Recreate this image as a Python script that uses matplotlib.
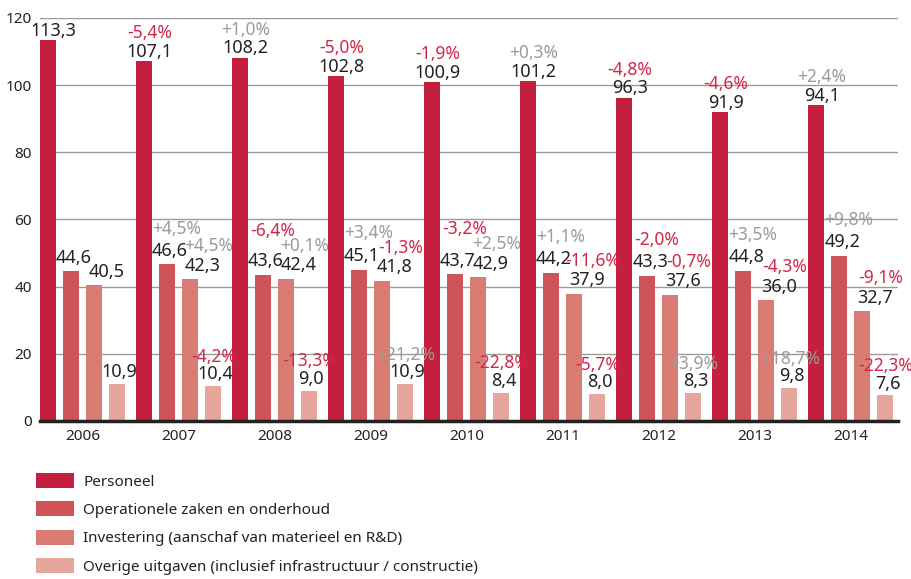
import matplotlib.pyplot as plt
import numpy as np
from matplotlib.patches import Patch

# Data (miljard euro)
years = ['2006', '2007', '2008', '2009', '2010', '2011', '2012', '2013', '2014']
series_names = [
    'Personeel',
    'Operationele zaken en onderhoud',
    'Investering (aanschaf van materieel en R&D)',
    'Overige uitgaven (inclusief infrastructuur / constructie)',
]
personeel = [113.3, 107.1, 108.2, 102.8, 100.9, 101.2, 96.3, 91.9, 94.1]
operationeel = [44.6, 46.6, 43.6, 45.1, 43.7, 44.2, 43.3, 44.8, 49.2]
investering = [40.5, 42.3, 42.4, 41.8, 42.9, 37.9, 37.6, 36.0, 32.7]
overig = [10.9, 10.4, 9.0, 10.9, 8.4, 8.0, 8.3, 9.8, 7.6]

# Year-on-year change (%), none for the first year
pct_personeel = [None, -5.4, 1.0, -5.0, -1.9, 0.3, -4.8, -4.6, 2.4]
pct_operationeel = [None, 4.5, -6.4, 3.4, -3.2, 1.1, -2.0, 3.5, 9.8]
pct_investering = [None, 4.5, 0.1, -1.3, 2.5, -11.6, -0.7, -4.3, -9.1]
pct_overig = [None, -4.2, -13.3, 21.2, -22.8, -5.7, 3.9, 18.7, -22.3]

colors = ['#C41F3E', '#CF5458', '#D97C74', '#E7A69B']
pos_color = '#9B9B9B'
neg_color = '#D42648'
text_color = '#222222'

plt.rcParams['font.family'] = ['Noto Sans', 'DejaVu Sans']
# narrower face for the labels above the bars
label_font = ['Liberation Sans Narrow', 'Noto Sans', 'DejaVu Sans']


def fmt(v, sign=False):
  s = f"{v:+.1f}" if sign else f"{v:.1f}"
  return s.replace('.', ',')


fig = plt.figure(figsize=(9.12, 5.79), dpi=100)
ax = fig.add_axes([0.0439, 0.2729, 0.9407, 0.6961])

values = [personeel, operationeel, investering, overig]
changes = [pct_personeel, pct_operationeel, pct_investering, pct_overig]

x = np.arange(len(years))
pitch = 0.24
width = 0.167
offsets = (np.arange(4) - 1.5) * pitch
# label placement per series, in points (the original leans right and
# stacks the percentages a bit higher for the middle series)
value_dx = [4, 2, 9, 1.5]
value_dy = [3, 6, 6, 5]
pct_dx = [4, 7, 13, 0.5]
pct_dy = [16.5, 22, 20, 17.5]

for s in range(4):
  ax.bar(x + offsets[s], values[s], width=width, color=colors[s], zorder=2)

ax.set_xlim(-0.443, 8.49)
ax.set_ylim(0, 120)

# points per data unit, to keep the operationele % clear of the investering %
pt_per_unit = (ax.transData.transform((0, 1))[1]
               - ax.transData.transform((0, 0))[1]) * 72 / fig.dpi

# Labels on top of bars
for s in range(4):
  for i, v in enumerate(values[s]):
    bx = x[i] + offsets[s]
    ax.annotate(fmt(v), (bx, v), xytext=(value_dx[s], value_dy[s]),
                textcoords='offset points', ha='center', va='baseline',
                fontsize=13, family=label_font, color=text_color, zorder=5)
    p = changes[s][i]
    if p is not None:
      dy = pct_dy[s]
      if s == 1:
        inv_level = investering[i] * pt_per_unit + pct_dy[2]
        level = v * pt_per_unit + dy
        if level < inv_level + 11:
          dy = inv_level + 11 - v * pt_per_unit
      ax.annotate(fmt(p, sign=True) + '%', (bx, v), xytext=(pct_dx[s], dy),
                  textcoords='offset points', ha='center', va='baseline',
                  fontsize=12.5, family=label_font,
                  color=neg_color if p < 0 else pos_color, zorder=5)

ax.set_yticks(range(0, 121, 20))
ax.set_xticks(x)
ax.set_xticklabels(years)
ax.tick_params(axis='both', length=0, labelsize=11, colors=text_color)
ax.tick_params(axis='x', pad=6)
ax.tick_params(axis='y', pad=6)
ax.grid(axis='y', color='#9A9A9A', linewidth=1.0, zorder=0)
ax.set_axisbelow(True)
for side in ['top', 'right', 'left']:
  ax.spines[side].set_visible(False)
ax.spines['bottom'].set_color('#222222')
ax.spines['bottom'].set_linewidth(2.5)
ax.spines['bottom'].set_zorder(3)

# Legend below the chart
handles = [Patch(facecolor=c, edgecolor='none') for c in colors]
fig.legend(handles, series_names, loc='upper left', bbox_to_anchor=(0.0395, 0.183),
           frameon=False, fontsize=11, handlelength=2.5, handleheight=1.1,
           handletextpad=0.6, labelspacing=0.78, borderpad=0, borderaxespad=0,
           labelcolor=text_color)

plt.savefig('out.png', dpi=100)
plt.close()
